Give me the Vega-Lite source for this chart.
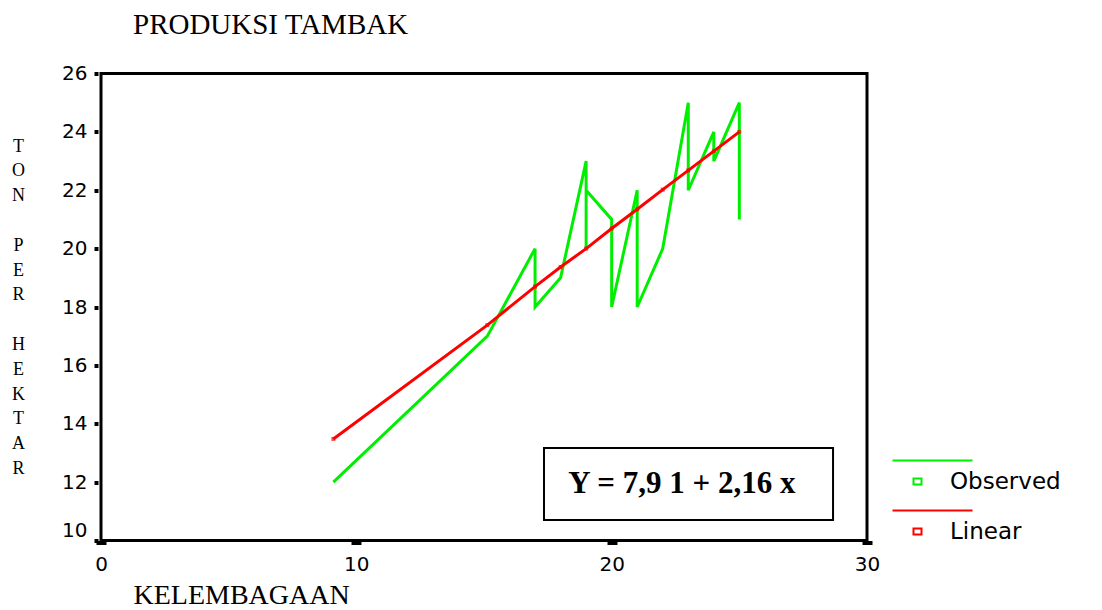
{
  "$schema": "https://vega.github.io/schema/vega-lite/v6.json",
  "width": 766,
  "height": 467,
  "autosize": {"type": "none"},
  "padding": {"left": 101, "top": 73.5, "right": 235, "bottom": 69.5},
  "background": "white",
  "title": {
    "text": "PRODUKSI TAMBAK",
    "anchor": "start",
    "frame": "group",
    "dx": 32,
    "offset": 24,
    "font": "Liberation Serif",
    "fontSize": 29,
    "fontWeight": "normal",
    "color": "black"
  },
  "config": {
    "view": {"stroke": "black", "strokeWidth": 3},
    "axis": {"grid": false, "domain": false, "tickColor": "black", "labelColor": "black", "titleColor": "black", "labelFlush": false}
  },
  "datasets": {
    "series": [
      {"x": 9.1, "y": 12, "series": "Observed", "order": 1},
      {"x": 15.13, "y": 17, "series": "Observed", "order": 2},
      {"x": 17, "y": 20, "series": "Observed", "order": 3},
      {"x": 17, "y": 18, "series": "Observed", "order": 4},
      {"x": 18, "y": 19, "series": "Observed", "order": 5},
      {"x": 19, "y": 23, "series": "Observed", "order": 6},
      {"x": 19, "y": 20, "series": "Observed", "order": 7},
      {"x": 19, "y": 22, "series": "Observed", "order": 8},
      {"x": 20, "y": 21, "series": "Observed", "order": 9},
      {"x": 20, "y": 18, "series": "Observed", "order": 10},
      {"x": 21, "y": 22, "series": "Observed", "order": 11},
      {"x": 21, "y": 18, "series": "Observed", "order": 12},
      {"x": 22, "y": 20, "series": "Observed", "order": 13},
      {"x": 23, "y": 25, "series": "Observed", "order": 14},
      {"x": 23, "y": 22, "series": "Observed", "order": 15},
      {"x": 24, "y": 24, "series": "Observed", "order": 16},
      {"x": 24, "y": 23, "series": "Observed", "order": 17},
      {"x": 25, "y": 25, "series": "Observed", "order": 18},
      {"x": 25, "y": 21, "series": "Observed", "order": 19},
      {"x": 9.1, "y": 13.48, "series": "Linear", "order": 1},
      {"x": 15.13, "y": 17.38, "series": "Linear", "order": 2},
      {"x": 17, "y": 18.7, "series": "Linear", "order": 3},
      {"x": 18, "y": 19.37, "series": "Linear", "order": 4},
      {"x": 19, "y": 20.0, "series": "Linear", "order": 5},
      {"x": 20, "y": 20.69, "series": "Linear", "order": 6},
      {"x": 21, "y": 21.35, "series": "Linear", "order": 7},
      {"x": 22, "y": 22.02, "series": "Linear", "order": 8},
      {"x": 23, "y": 22.68, "series": "Linear", "order": 9},
      {"x": 24, "y": 23.34, "series": "Linear", "order": 10},
      {"x": 25, "y": 24.0, "series": "Linear", "order": 11}
    ],
    "box": [
      {"x1": 17.35, "x2": 28.67, "y1": 10.7, "y2": 13.17, "xm": 22.75, "ym": 11.93, "label": "Y = 7,9 1 + 2,16 x"}
    ]
  },
  "layer": [
    {
      "data": {"name": "series"},
      "mark": {"type": "line", "strokeWidth": 3, "clip": false},
      "encoding": {
        "x": {
          "field": "x",
          "type": "quantitative",
          "scale": {"domain": [0, 30], "nice": false, "zero": false},
          "axis": {
            "values": [0, 10, 20, 30],
            "tickSize": 4,
            "tickWidth": 10,
            "labelPadding": 10,
            "labelFont": "DejaVu Sans",
            "labelFontSize": 20,
            "title": "KELEMBAGAAN",
            "titleFont": "Liberation Serif",
            "titleFontSize": 28,
            "titleFontWeight": "normal",
            "titleAlign": "left",
            "titleAnchor": "start",
            "titleBaseline": "alphabetic",
            "titleX": 32,
            "titleY": 63
          }
        },
        "y": {
          "field": "y",
          "type": "quantitative",
          "scale": {"domain": [10, 26], "nice": false, "zero": false},
          "axis": {
            "values": [10, 12, 14, 16, 18, 20, 22, 24, 26],
            "offset": 3,
            "tickSize": 4,
            "tickWidth": 4,
            "labelPadding": 7,
            "labelFont": "DejaVu Sans",
            "labelFontSize": 20,
            "labelOffset": {"condition": {"test": "datum.value == 10", "value": -10}, "value": 0},
            "title": ["T", "O", "N", "\u200b", "P", "E", "R", "\u200b", "H", "E", "K", "T", "A", "R"],
            "titleAngle": 0,
            "titleAlign": "center",
            "titleBaseline": "alphabetic",
            "titleFont": "Liberation Serif",
            "titleFontSize": 18,
            "titleFontWeight": "normal",
            "titleLineHeight": 24.8,
            "titleX": -80,
            "titleY": 77.5
          }
        },
        "color": {
          "field": "series",
          "type": "nominal",
          "scale": {"domain": ["Observed", "Linear"], "range": ["#00ee00", "#ff0000"]},
          "legend": {
            "orient": "none",
            "legendX": 805,
            "legendY": 396.5,
            "title": null,
            "padding": 0,
            "symbolType": "M -5 -4.2 H 11 M -0.8 -0.6 H 0.8 V 0.6 H -0.8 Z",
            "symbolSize": 100,
            "symbolStrokeWidth": 2,
            "symbolFillColor": "white",
            "labelFont": "DejaVu Sans",
            "labelFontSize": 23,
            "labelColor": "black",
            "labelOffset": 21,
            "rowPadding": 12
          }
        },
        "order": {"field": "order", "type": "quantitative"}
      }
    },
    {
      "data": {"name": "series"},
      "transform": [{"filter": "datum.series == 'Linear'"}],
      "mark": {"type": "square", "size": 16, "filled": true, "color": "#ff0000"},
      "encoding": {
        "x": {"field": "x", "type": "quantitative"},
        "y": {"field": "y", "type": "quantitative"}
      }
    },
    {
      "data": {"name": "box"},
      "mark": {"type": "rect", "fill": "white", "stroke": "black", "strokeWidth": 2},
      "encoding": {
        "x": {"field": "x1", "type": "quantitative"},
        "x2": {"field": "x2"},
        "y": {"field": "y1", "type": "quantitative"},
        "y2": {"field": "y2"}
      }
    },
    {
      "data": {"name": "box"},
      "mark": {"type": "text", "font": "Liberation Serif", "fontSize": 31, "fontWeight": "bold", "color": "black", "align": "center", "baseline": "middle"},
      "encoding": {
        "x": {"field": "xm", "type": "quantitative"},
        "y": {"field": "ym", "type": "quantitative"},
        "text": {"field": "label"}
      }
    }
  ]
}
